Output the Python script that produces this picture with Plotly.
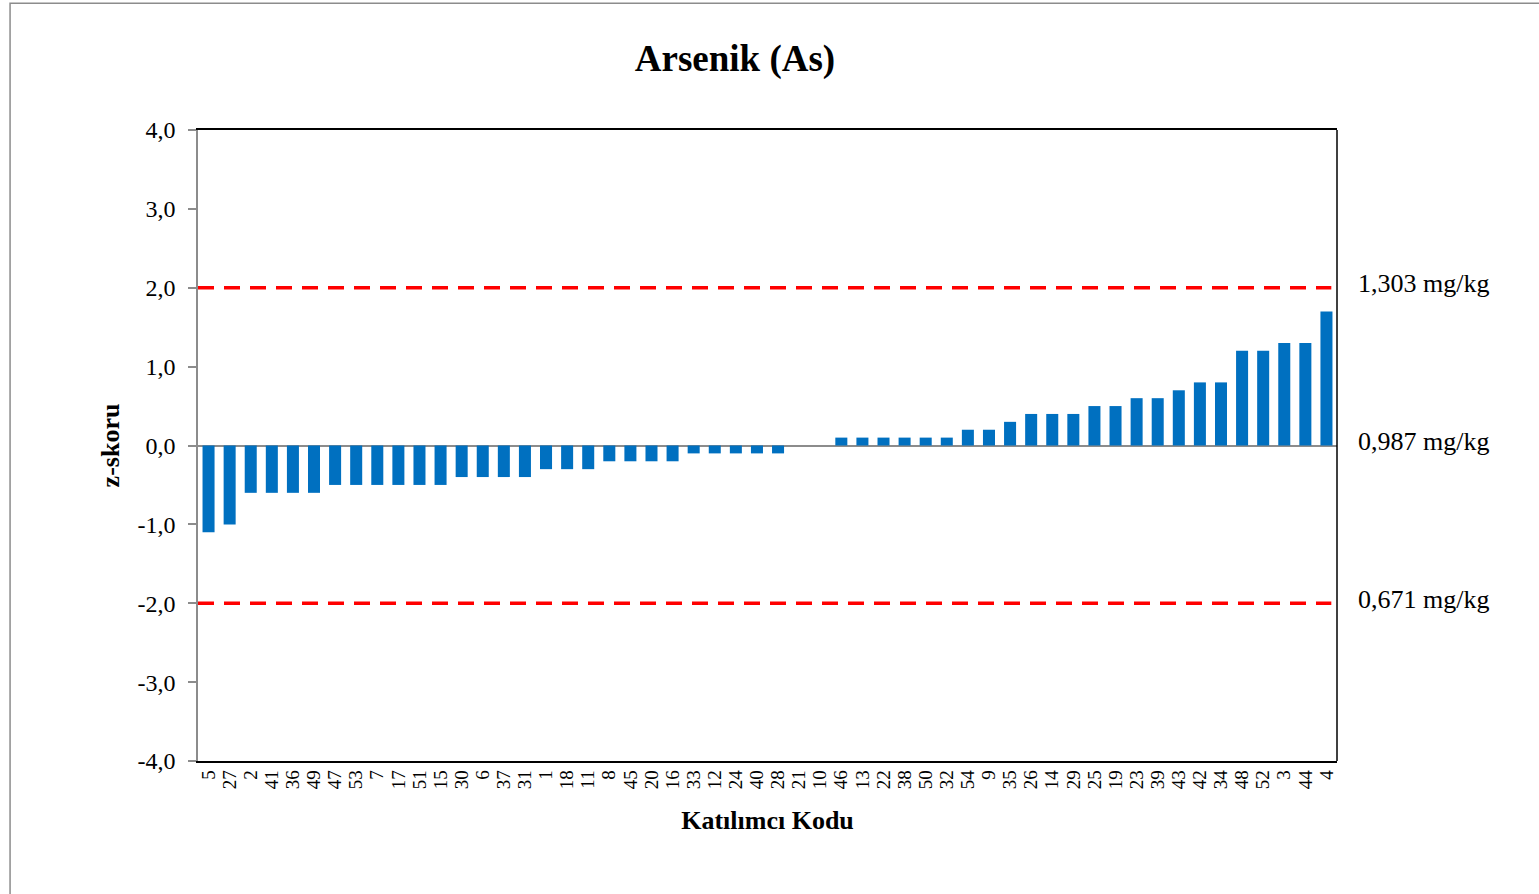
import plotly.graph_objects as go

# Participant codes, ordered by z-score
codes = ["5", "27", "2", "41", "36", "49", "47", "53", "7", "17", "51", "15", "30", "6",
         "37", "31", "1", "18", "11", "8", "45", "20", "16", "33", "12", "24", "40", "28",
         "21", "10", "46", "13", "22", "38", "50", "32", "54", "9", "35", "26", "14", "29",
         "25", "19", "23", "39", "43", "42", "34", "48", "52", "3", "44", "4"]

z_scores = [-1.1, -1.0, -0.6, -0.6, -0.6, -0.6, -0.5, -0.5, -0.5, -0.5, -0.5, -0.5,
            -0.4, -0.4, -0.4, -0.4, -0.3, -0.3, -0.3, -0.2, -0.2, -0.2, -0.2,
            -0.1, -0.1, -0.1, -0.1, -0.1, 0.0, 0.0,
            0.1, 0.1, 0.1, 0.1, 0.1, 0.1, 0.2, 0.2, 0.3, 0.4, 0.4, 0.4,
            0.5, 0.5, 0.6, 0.6, 0.7, 0.8, 0.8, 1.2, 1.2, 1.3, 1.3, 1.7]

y_tick_vals = [4, 3, 2, 1, 0, -1, -2, -3, -4]
y_tick_text = ["4,0", "3,0", "2,0", "1,0", "0,0", "-1,0", "-2,0", "-3,0", "-4,0"]

# Concentration equivalents of the z = +2, 0, -2 levels
limit_z = [2, 0, -2]
limit_labels = ["1,303 mg/kg", "0,987 mg/kg", "0,671 mg/kg"]

FONT = "Liberation Serif"

fig = go.Figure(go.Bar(
    x=codes, y=z_scores,
    marker=dict(color="#0070C0", line=dict(width=0)),
))

shapes = [
    # outer chart frame
    dict(type="rect", xref="paper", yref="paper", x0=-0.165, x1=1.6, y0=-0.6, y1=1.201,
         line=dict(color="#8c8c8c", width=1.5), layer="below"),
    # right edge of the plot area
    dict(type="line", xref="paper", yref="paper", x0=1, x1=1, y0=0, y1=1,
         line=dict(color="black", width=1.5)),
]
for zv in (2, -2):
    shapes.append(dict(type="line", xref="paper", yref="y", x0=0, x1=0.995, y0=zv, y1=zv,
                       line=dict(color="#FF0000", width=3.5, dash="16px,10px")))

annotations = [
    dict(text=lab, xref="paper", yref="y", x=1.017, y=zv, xanchor="left", yanchor="middle",
         yshift=4, showarrow=False, font=dict(family=FONT, size=26, color="black"))
    for zv, lab in zip(limit_z, limit_labels)
]

fig.update_layout(
    width=1539, height=894,
    margin=dict(l=198, r=202, t=130, b=133),
    paper_bgcolor="white", plot_bgcolor="white",
    font=dict(family=FONT, color="black"),
    title=dict(text="<b>Arsenik (As)</b>", x=735 / 1539, xanchor="center",
               y=1 - 58 / 894, yanchor="middle", font=dict(family=FONT, size=37, color="black")),
    bargap=0.43,
    showlegend=False,
    shapes=shapes,
    annotations=annotations,
)

fig.update_xaxes(
    type="category", tickmode="array", tickvals=codes, ticktext=codes,
    tickangle=-90, ticks="",
    tickfont=dict(family=FONT, size=19, color="black"),
    showline=True, linecolor="black", linewidth=1.5, mirror=True,
    showgrid=False,
    title=dict(text="<b>Katılımcı Kodu</b>", font=dict(family=FONT, size=26, color="black"),
               standoff=22),
)

fig.update_yaxes(
    range=[-4, 4], tickvals=y_tick_vals, ticktext=y_tick_text,
    ticks="outside", ticklen=8, tickcolor="#8c8c8c", tickwidth=1.5,
    ticklabelstandoff=8,
    tickfont=dict(family=FONT, size=24, color="black"),
    showline=True, linecolor="#8c8c8c", linewidth=1.5,
    showgrid=False,
    zeroline=True, zerolinecolor="#8c8c8c", zerolinewidth=2,
    title=dict(text="<b>z-skoru</b>", font=dict(family=FONT, size=26, color="black"),
               standoff=10),
)

fig.write_html("out.html")
